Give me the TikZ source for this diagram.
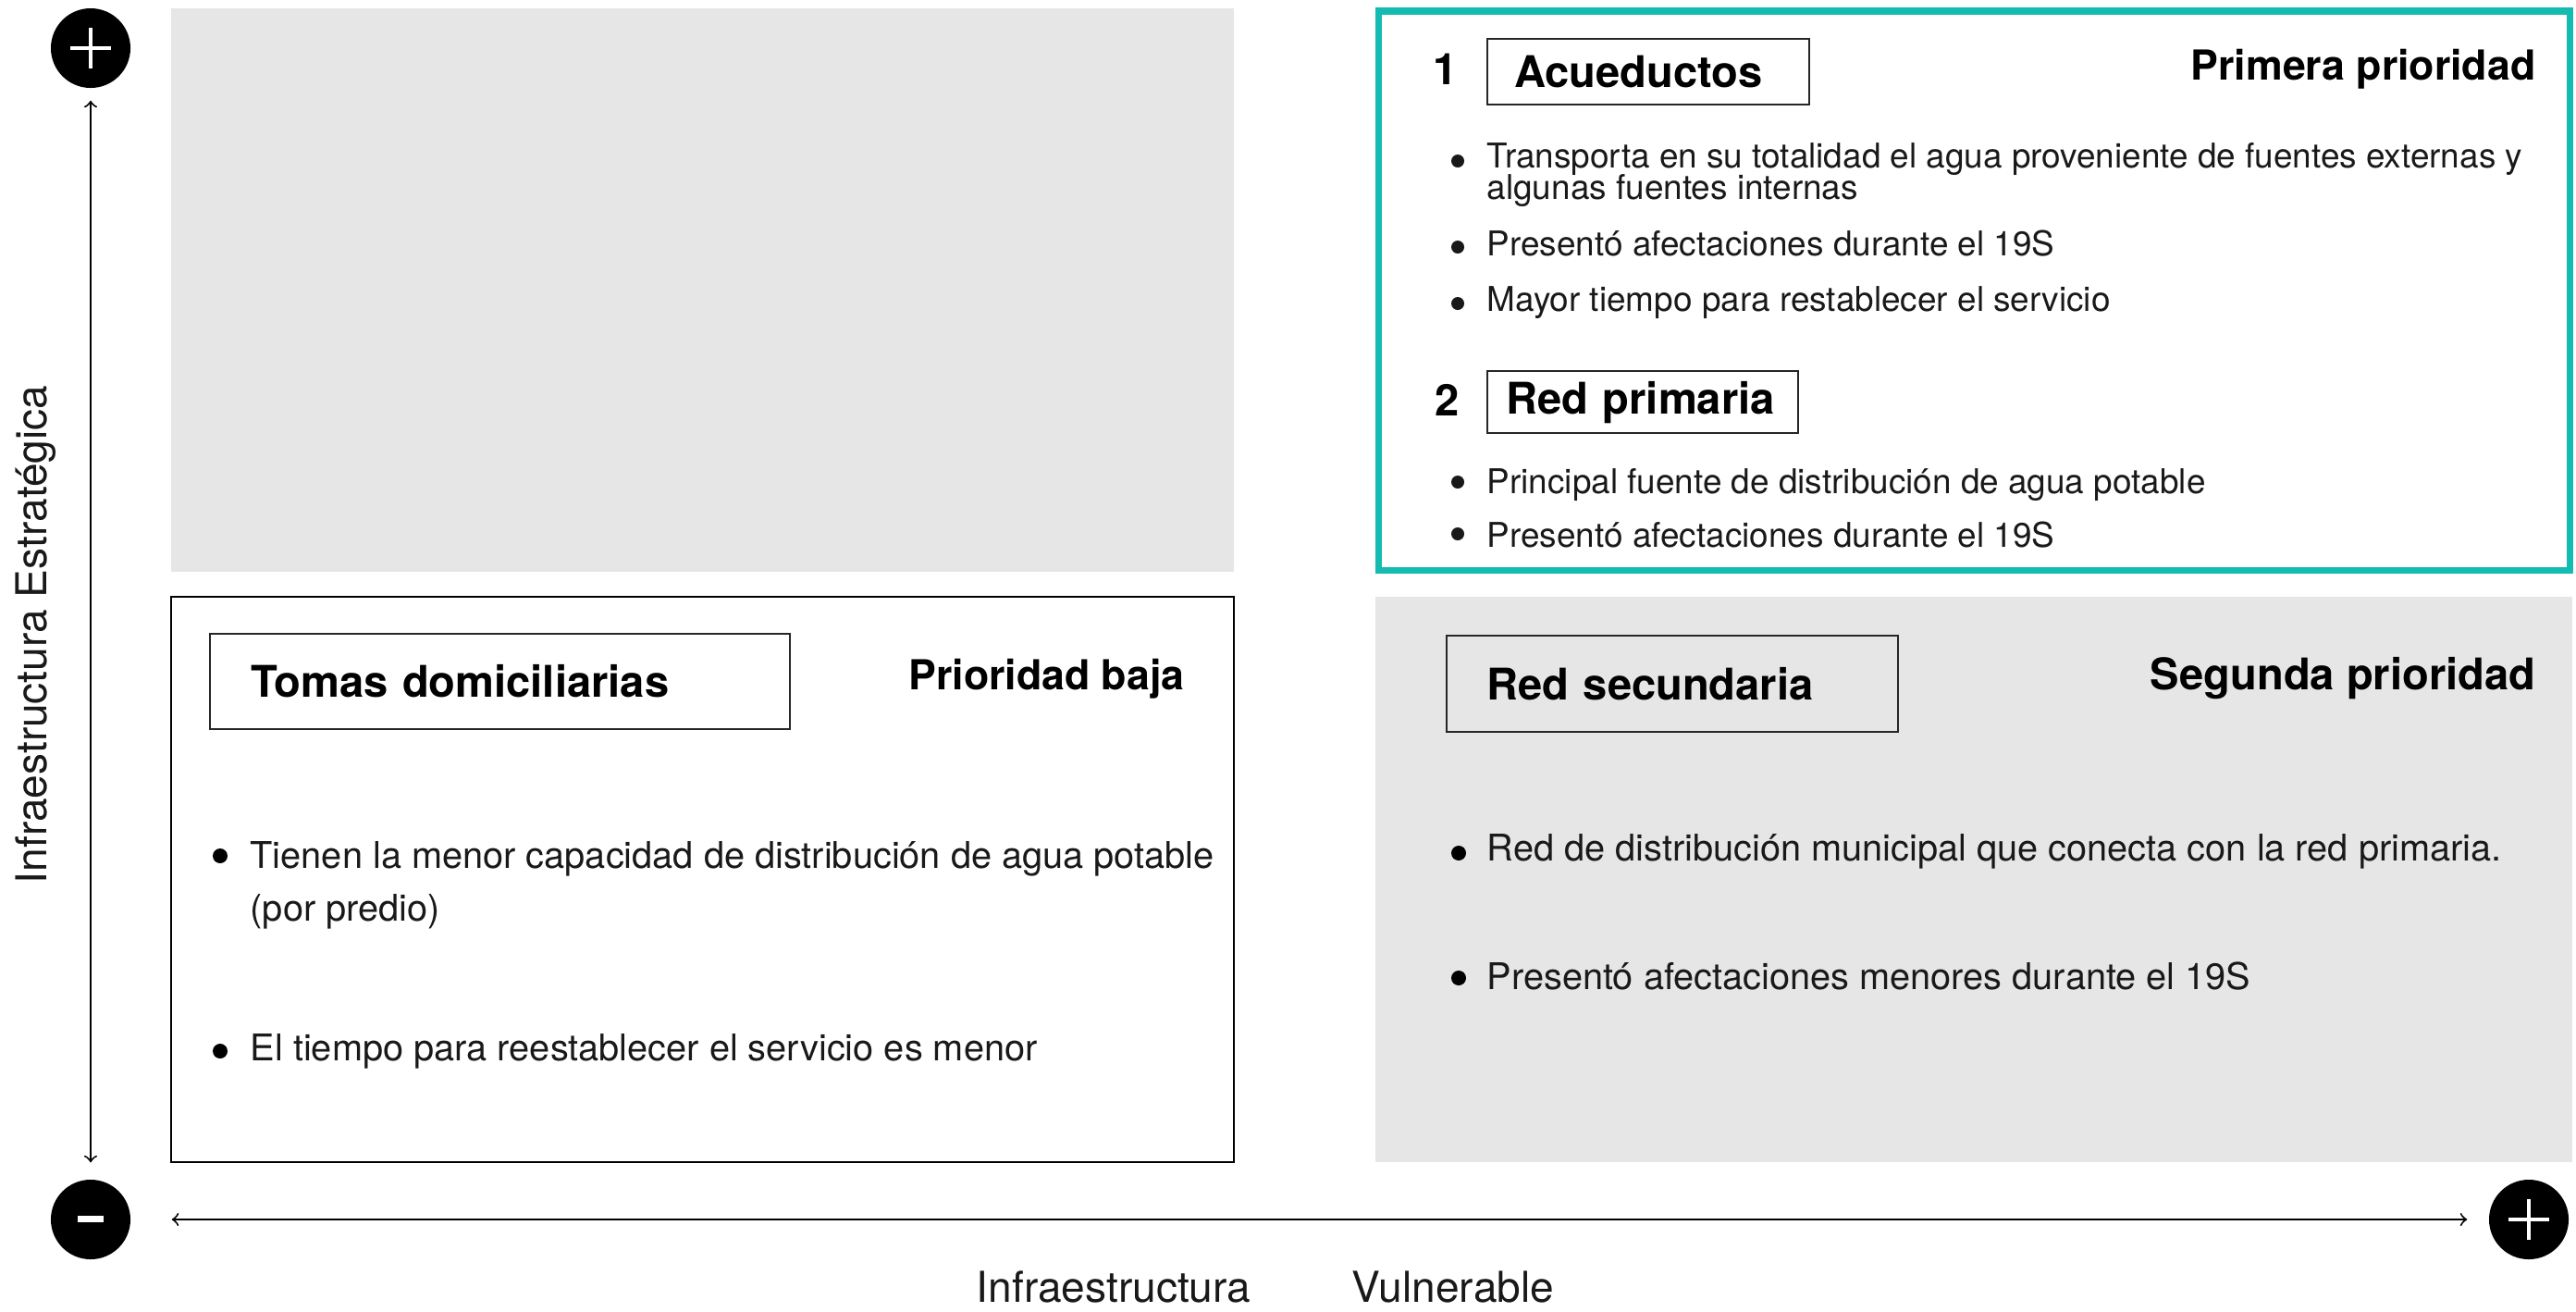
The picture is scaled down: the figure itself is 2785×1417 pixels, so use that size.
\documentclass[tikz,border=0pt]{standalone}
\usepackage{fontspec}
\setmainfont{TeX Gyre Heros}
\usetikzlibrary{calc, positioning}
\definecolor{tealframe}{RGB}{20,187,176}
\definecolor{panelgray}{RGB}{230,230,230}

\begin{document}
\begin{tikzpicture}[x=0.01cm, y=-0.01cm, >=to,
    titlebox/.style={draw=black!85, line width=0.6pt, anchor=north west, align=left, inner ysep=0pt, font=\fontsize{13.4}{16}\selectfont\bfseries},
    prio/.style={anchor=east, inner sep=0pt, font=\fontsize{12.7}{16}\selectfont\bfseries},
    num/.style={inner sep=0pt, font=\fontsize{13.4}{16}\selectfont\bfseries},
    txtsmall/.style={anchor=mid west, inner sep=0pt, text=black!90, font=\fontsize{10.5}{12}\selectfont},
    txtbig/.style={anchor=mid west, inner sep=0pt, text=black!90, font=\fontsize{11.3}{14}\selectfont},
    sign/.style={circle, fill=black, minimum size=0.86cm, inner sep=0pt},
    axislabel/.style={inner sep=0pt, text=black!90, font=\fontsize{13.1}{16}\selectfont}]
    \useasboundingbox (0,0) rectangle (2785,1417);

    % Panels
    \fill[panelgray] (185,9) rectangle (1334,618);
    \fill[panelgray] (1487,645) rectangle (2781,1256);
    \draw[black, line width=0.8pt] (185,645) rectangle (1334,1256);
    \draw[tealframe, line width=2pt] (1490,12) rectangle (2778,616);

    % Primera prioridad
    \node[num] (n1) at (1563,75) {1};
    \node[titlebox, minimum width=3.48cm, minimum height=0.71cm, text width=2.90cm, inner xsep=0.29cm] (acu) at (1607,41) {Acueductos};
    \node[prio] (prim) at (2742,75) {Primera prioridad};
    \node[txtsmall] (acu1a) at (1607,172) {Transporta en su totalidad el agua proveniente de fuentes externas y};
    \node[txtsmall] (acu1b) at (1607,206) {algunas fuentes internas};
    \node[txtsmall] (acu2) at (1607,267) {Presentó afectaciones durante el 19S};
    \node[txtsmall] (acu3) at (1607,327) {Mayor tiempo para restablecer el servicio};
    \node[num] (n2) at (1565,432) {2};
    \node[titlebox, minimum width=3.36cm, minimum height=0.67cm, text width=2.96cm, inner xsep=0.20cm] (rp) at (1607,400) {Red primaria};
    \node[txtsmall] (rp1) at (1607,524) {Principal fuente de distribución de agua potable};
    \node[txtsmall] (rp2) at (1607,582) {Presentó afectaciones durante el 19S};
    \foreach \y in {174,267,328,521,577}
        \fill[black!90] (1576,\y) circle (7);

    % Prioridad baja
    \node[titlebox, minimum width=6.27cm, minimum height=1.03cm, text width=5.39cm, inner xsep=0.44cm] (tomas) at (226,684) {Tomas domiciliarias};
    \node[prio] (baja) at (1281,734) {Prioridad baja};
    \node[txtbig] (tom1a) at (270,929) {Tienen la menor capacidad de distribución de agua potable};
    \node[txtbig] (tom1b) at (270,986) {(por predio)};
    \node[txtbig] (tom2) at (270,1137) {El tiempo para reestablecer el servicio es menor};
    \foreach \y in {925,1136}
        \fill[black] (238,\y) circle (8);

    % Segunda prioridad
    \node[titlebox, minimum width=4.88cm, minimum height=1.04cm, text width=4.02cm, inner xsep=0.43cm] (rs) at (1563,686) {Red secundaria};
    \node[prio, font=\fontsize{13.4}{16}\selectfont\bfseries] (seg) at (2742,733) {Segunda prioridad};
    \node[txtbig] (rs1) at (1607,921) {Red de distribución municipal que conecta con la red primaria.};
    \node[txtbig] (rs2) at (1607,1060) {Presentó afectaciones menores durante el 19S};
    \foreach \y in {922,1057}
        \fill[black] (1577,\y) circle (8);

    % Axis
    \node[sign] (ptop) at (98,52) {};
    \node[sign] (mbot) at (98,1318) {};
    \node[sign] (pright) at (2734,1318) {};
    \draw[white, line width=1.2pt] ($(ptop)+(-22,0)$) -- ($(ptop)+(22,0)$) ($(ptop)+(0,-22)$) -- ($(ptop)+(0,22)$);
    \draw[white, line width=1.2pt] ($(pright)+(-22,0)$) -- ($(pright)+(22,0)$) ($(pright)+(0,-22)$) -- ($(pright)+(0,22)$);
    \fill[white] ($(mbot)+(-14,-4)$) rectangle ($(mbot)+(14,3)$);
    \draw[<->, line width=0.55pt, shorten <=0.18cm, shorten >=0.13cm] (mbot.north) -- (ptop.south);
    \draw[<->, line width=0.55pt, shorten <=0.44cm, shorten >=0.23cm] (mbot.east) -- (pright.west);

    % Labels
    \node[axislabel, rotate=90] (ylab) at (39,686) {Infraestructura Estratégica};
    \node[axislabel] (xlab1) at (1204,1391) {Infraestructura};
    \node[axislabel] (xlab2) at (1571,1391) {Vulnerable};
\end{tikzpicture}
\end{document}
